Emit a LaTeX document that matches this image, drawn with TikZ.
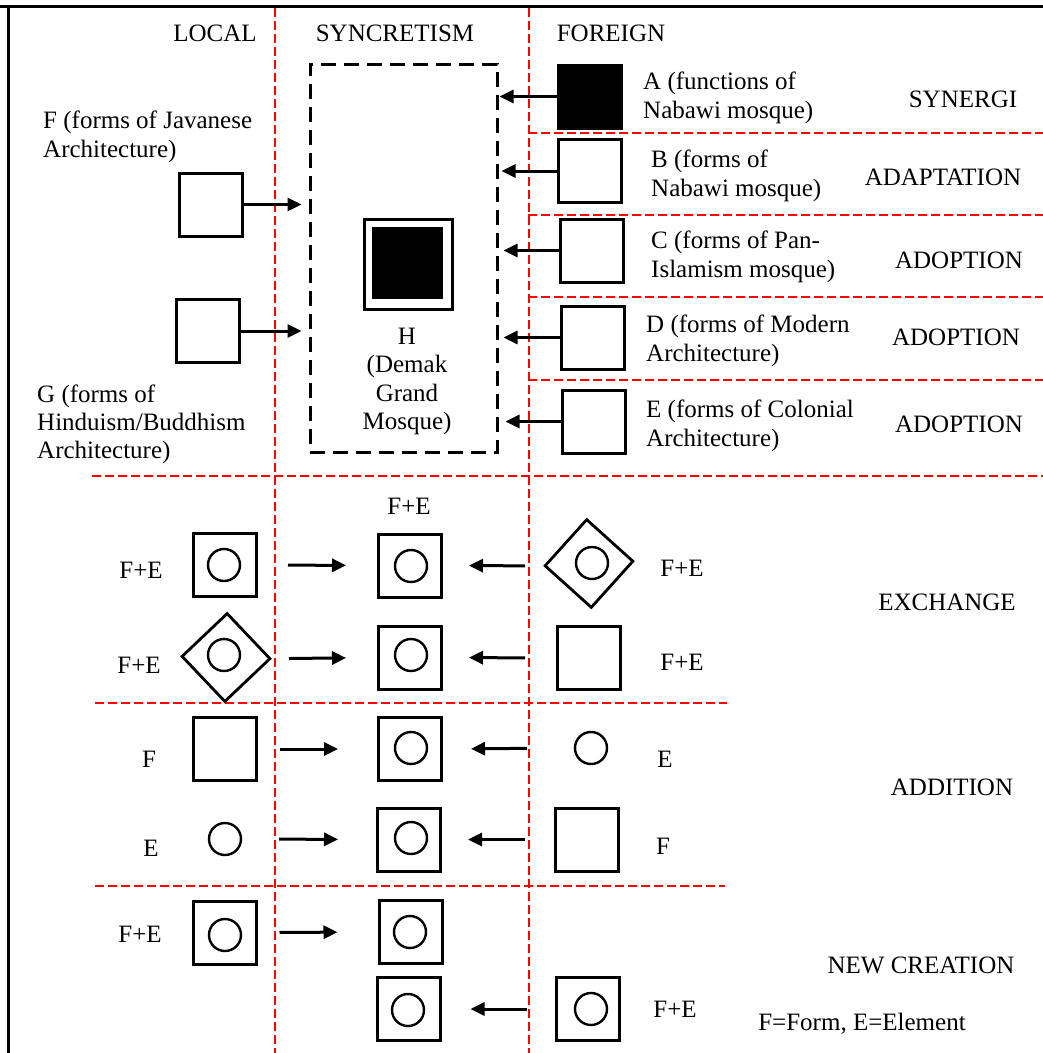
\documentclass[tikz,border=0pt]{standalone}
\usepackage{fontspec}
\setmainfont{Liberation Serif}
\usetikzlibrary{arrows.meta,shapes.geometric}
\begin{document}
\begin{tikzpicture}[x=1pt,y=-1pt,
  lbl/.style={font=\fontsize{25}{29}\selectfont, inner sep=0pt, anchor=base},
  mtxt/.style={font=\fontsize{25}{29}\selectfont, inner sep=0pt, anchor=north west, align=left},
  sqb/.style={draw, line width=3pt, inner sep=0pt, minimum size=63pt},
  circ/.style={draw, circle, line width=2.4pt, minimum size=32pt, inner sep=0pt},
  dia/.style={draw, diamond, aspect=1, line width=2.8pt, inner sep=0pt, minimum size=89pt},
  arr/.style={line width=3pt, -{Triangle[length=14pt,width=13pt]}},
  redl/.style={red, line width=1.2pt, dash pattern=on 9pt off 4pt},
  frame/.style={line width=3pt}]
\useasboundingbox (0,0) rectangle (1043,1053);

% frame
\draw[frame] (0,6) -- (1043,6);
\draw[frame] (8,6) -- (8,1053);

% red guide lines
\draw[redl] (275,8) -- (275,1053);
\draw[redl] (529,8) -- (529,1053);
\draw[redl] (92,476) -- (1043,476);
\draw[redl] (528,133) -- (1043,133);
\draw[redl] (528,215) -- (1043,215);
\draw[redl] (528,297) -- (1043,297);
\draw[redl] (528,380) -- (1043,380);
\draw[redl] (95,703) -- (727,703);
\draw[redl] (95,886) -- (725,886);

% headers
\node[lbl] (hlocal) at (215,41) {LOCAL};
\node[lbl] (hsyn) at (395,41) {SYNCRETISM};
\node[lbl] (hfor) at (611,41) {FOREIGN};

% top section
\node[draw, line width=3pt, dash pattern=on 15pt off 8pt, minimum width=187pt, minimum height=388pt, inner sep=0pt] (Hbox) at (403.5,258) {};
\node[sqb, minimum width=88pt, minimum height=90pt] (Hout) at (408,264) {};
\node[fill=black, minimum width=71pt, minimum height=72pt, inner sep=0pt] (Hin) at (407.5,263) {};
\node[mtxt, anchor=north, align=center, font=\fontsize{25}{28.3}\selectfont] (Htxt) at (407,328) {H\\(Demak\\Grand\\Mosque)};

\node[sqb, fill=black] (A) at (589.5,96.5) {};
\node[sqb] (B) at (590,171) {};
\node[sqb] (C) at (592,250.5) {};
\node[sqb] (D) at (593,337.5) {};
\node[sqb] (E) at (593.5,421.5) {};
\node[sqb] (F) at (210.5,204.5) {};
\node[sqb] (G) at (207.5,331) {};

\node[mtxt] (Atxt) at (643,72) {A (functions of\\Nabawi mosque)};
\node[mtxt] (Btxt) at (651,150) {B (forms of\\Nabawi mosque)};
\node[mtxt] (Ctxt) at (651,231) {C (forms of Pan-\\Islamism mosque)};
\node[mtxt] (Dtxt) at (646,315) {D (forms of Modern\\Architecture)};
\node[mtxt] (Etxt) at (646,400) {E (forms of Colonial\\Architecture)};
\node[mtxt] (Ftxt) at (43,111) {F (forms of Javanese\\Architecture)};
\node[mtxt, font=\fontsize{25}{28}\selectfont] (Gtxt) at (37,385) {G (forms of\\Hinduism/Buddhism\\Architecture)};

\node[lbl] (syn) at (963,107) {SYNERGI};
\node[lbl] (adap) at (943,185) {ADAPTATION};
\node[lbl] (adop1) at (959,268) {ADOPTION};
\node[lbl] (adop2) at (956,345) {ADOPTION};
\node[lbl] (adop3) at (959,432) {ADOPTION};

\draw[arr, shorten >=1pt] (A.west) -- (A.west -| Hbox.east);
\draw[arr, shorten >=3pt] (B.west) -- (B.west -| Hbox.east);
\draw[arr, shorten >=5pt] (C.west) -- (C.west -| Hbox.east);
\draw[arr, shorten >=5pt] (D.west) -- (D.west -| Hbox.east);
\draw[arr, shorten >=7pt] (E.west) -- (E.west -| Hbox.east);
\draw[arr, shorten >=7pt] (F.east) -- (F.east -| Hbox.west);
\draw[arr, shorten >=7pt] (G.east) -- (G.east -| Hbox.west);

% exchange
\node[lbl] (xtop) at (409,514) {F+E};
\node[sqb] (xl1) at (225,565) {};
\node[circ] (xl1c) at (224,565) {};
\node[sqb] (xc1) at (410,565.5) {};
\node[circ] (xc1c) at (411,566) {};
\node[dia, rotate=3] (xf1) at (589,563.5) {};
\node[circ] (xf1c) at (592,563) {};
\node[dia, rotate=-1.5] (xl2) at (226,657.5) {};
\node[circ] (xl2c) at (224,655) {};
\node[sqb] (xc2) at (410,657.5) {};
\node[circ] (xc2c) at (411,655) {};
\node[sqb] (xf2) at (589,658) {};

\node[lbl] (xl1t) at (141,578) {F+E};
\node[lbl] (xl2t) at (139,673) {F+E};
\node[lbl] (xf1t) at (682,576) {F+E};
\node[lbl] (xf2t) at (682,670) {F+E};
\node[lbl] (exch) at (947,610) {EXCHANGE};

\draw[arr, shorten <=30pt, shorten >=31pt] (xl1.east) -- (xc1.west);
\draw[arr, shorten <=18pt, shorten >=26pt] (xf1.west) -- (xc1.east);
\draw[arr, shorten <=17pt, shorten >=31pt] (xl2.east) -- (xc2.west);
\draw[arr, shorten <=31pt, shorten >=26pt] (xf2.west) -- (xc2.east);

% addition
\node[sqb] (al1) at (224.5,749) {};
\node[sqb] (ac1) at (410,749) {};
\node[circ] (ac1c) at (411,748) {};
\node[circ] (af1) at (591,748) {};
\node[circ] (al2) at (225,839) {};
\node[sqb] (ac2) at (409,839.5) {};
\node[circ] (ac2c) at (411,838) {};
\node[sqb] (af2) at (587,839.5) {};

\node[lbl] (al1t) at (149,767) {F};
\node[lbl] (af1t) at (665,767) {E};
\node[lbl] (al2t) at (151,856) {E};
\node[lbl] (af2t) at (663,854) {F};
\node[lbl] (addi) at (952,795) {ADDITION};

\draw[arr, shorten <=22pt, shorten >=39pt] (al1.east) -- (ac1.west);
\draw[arr, shorten <=47pt, shorten >=28pt] (af1.west) -- (ac1.east);
\draw[arr, shorten <=37pt, shorten >=38pt] (al2.east) -- (ac2.west);
\draw[arr, shorten <=29pt, shorten >=26pt] (af2.west) -- (ac2.east);

% new creation
\node[sqb] (nl1) at (224.5,932.5) {};
\node[circ] (nl1c) at (225,935) {};
\node[sqb] (nc1) at (410.5,932) {};
\node[circ] (nc1c) at (410,932) {};
\node[sqb] (nc2) at (408.5,1009) {};
\node[circ] (nc2c) at (408,1010) {};
\node[sqb] (nf2) at (587.5,1009) {};
\node[circ] (nf2c) at (591,1009) {};

\node[lbl] (nl1t) at (140,942) {F+E};
\node[lbl] (nf2t) at (675,1017) {F+E};
\node[lbl] (newc) at (921,973) {NEW CREATION};
\node[lbl] (legend) at (862,1030) {F=Form, E=Element};

\draw[arr, shorten <=22pt, shorten >=40pt] (nl1.east) -- (nc1.west);
\draw[arr, shorten <=28pt, shorten >=29pt] (nf2.west) -- (nc2.east);
\end{tikzpicture}
\end{document}
